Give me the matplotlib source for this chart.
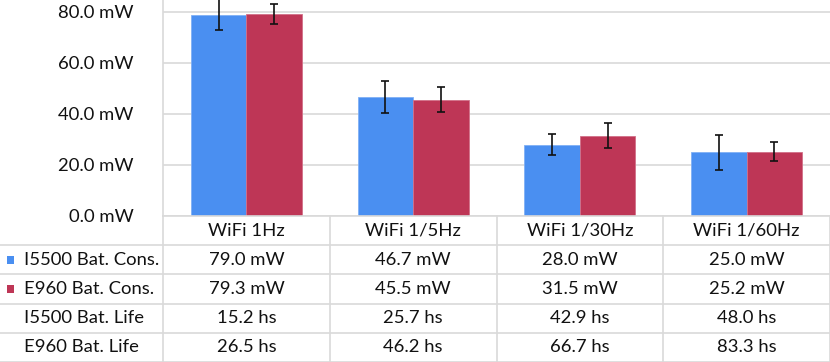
import matplotlib
matplotlib.use("Agg")
import matplotlib.pyplot as plt
from matplotlib.patches import Rectangle

categories = ["WiFi 1Hz", "WiFi 1/5Hz", "WiFi 1/30Hz", "WiFi 1/60Hz"]
i5500_cons = [79.0, 46.7, 28.0, 25.0]
e960_cons = [79.3, 45.5, 31.5, 25.2]
i5500_err = [6.2, 6.2, 4.0, 6.8]
e960_err = [3.9, 4.9, 5.0, 3.8]
i5500_life = [15.2, 25.7, 42.9, 48.0]
e960_life = [26.5, 46.2, 66.7, 83.3]
row_labels = ["I5500 Bat. Cons.", "E960 Bat. Cons.", "I5500 Bat. Life", "E960 Bat. Life"]
yticks = [0, 20, 40, 60, 80]

BLUE = "#4A8FF1"
RED = "#BE3656"
GRID = "#D9D9D9"
plt.rcParams["font.family"] = ["Lato", "DejaVu Sans"]
FS = 13.3

W, H = 830, 362
fig = plt.figure(figsize=(W / 100, H / 100), dpi=100)

# chart area (pixels: x 163..830, y 0..216 from top)
ax = fig.add_axes([163 / W, (H - 216) / H, (W - 163) / W, 216 / H])
n = len(categories)
xs = list(range(n))
bw = 0.333
ax.bar([x - bw / 2 for x in xs], i5500_cons, bw, color=BLUE, edgecolor="#7FB0F5", linewidth=0.6,
       yerr=i5500_err, error_kw=dict(ecolor="#111111", elinewidth=1.2, capsize=3, capthick=1.2), zorder=3)
ax.bar([x + bw / 2 for x in xs], e960_cons, bw, color=RED, edgecolor="#D27088", linewidth=0.6,
       yerr=e960_err, error_kw=dict(ecolor="#111111", elinewidth=1.2, capsize=3, capthick=1.2), zorder=3)
ax.set_xlim(-0.5, n - 0.5)
ax.set_ylim(0, 84.7)
ax.set_yticks(yticks)
ax.set_yticklabels([f"{v:.1f} mW" for v in yticks], fontsize=FS, color="#111111")
ax.tick_params(axis="y", length=0, pad=21)
ax.set_xticks([])
ax.grid(axis="y", color=GRID, linewidth=1.2, zorder=0)
for s in ["top", "right", "bottom"]:
    ax.spines[s].set_visible(False)
ax.spines["left"].set_color(GRID)
ax.spines["left"].set_linewidth(1.2)

# data table below
unit = (W - 163) / n
x0 = -0.5 - 163 / unit
tax = fig.add_axes([0, 0, 1, (H - 216) / H])
tax.set_xlim(x0, n - 0.5)
tax.set_ylim(5, 0)
tax.axis("off")
tax.plot([-0.5, n - 0.5], [0, 0], color=GRID, lw=1.2, clip_on=False)
for r in range(1, 6):
    tax.plot([x0, n - 0.5], [r, r], color=GRID, lw=1.2, clip_on=False)
for c in range(n + 1):
    tax.plot([c - 0.5, c - 0.5], [0, 5], color=GRID, lw=1.2, clip_on=False)

for i, cat in enumerate(categories):
    tax.text(i, 0.5, cat, ha="center", va="center", fontsize=FS, color="#111111")

rows = [[f"{v:.1f} mW" for v in i5500_cons],
        [f"{v:.1f} mW" for v in e960_cons],
        [f"{v:.1f} hs" for v in i5500_life],
        [f"{v:.1f} hs" for v in e960_life]]
for r, (lab, vals) in enumerate(zip(row_labels, rows)):
    y = r + 1.5
    tax.text(x0 + 24 / unit, y, lab, ha="left", va="center", fontsize=FS, color="#111111")
    for i, v in enumerate(vals):
        tax.text(i, y, v, ha="center", va="center", fontsize=FS, color="#111111")

# legend keys
for r, col in [(0, BLUE), (1, RED)]:
    tax.add_patch(Rectangle((x0 + 6.7 / unit, r + 1.5 - 0.13), 6.8 / unit, 0.26, color=col, lw=0))

fig.savefig("out.png", dpi=100)
